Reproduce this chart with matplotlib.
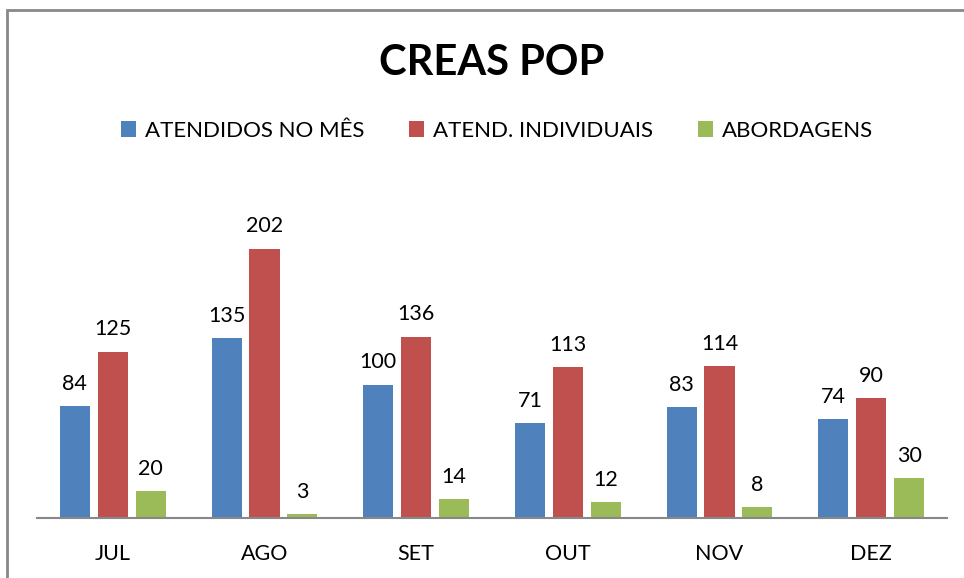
import matplotlib
matplotlib.use("Agg")
import matplotlib.pyplot as plt
from matplotlib.patches import Rectangle, Patch
import numpy as np

months = ["JUL", "AGO", "SET", "OUT", "NOV", "DEZ"]
series_names = ["ATENDIDOS NO MÊS", "ATEND. INDIVIDUAIS", "ABORDAGENS"]
atendidos = [84, 135, 100, 71, 83, 74]
individuais = [125, 202, 136, 113, 114, 90]
abordagens = [20, 3, 14, 12, 8, 30]
colors = ["#4F81BD", "#C0504D", "#9BBB59"]

plt.rcParams['font.family'] = ['Lato', 'DejaVu Sans']

W, H = 964, 578
fig = plt.figure(figsize=(W/100, H/100), dpi=100)
ax = fig.add_axes([37/W, 1-518/H, 910/W, 333/H])

x = np.arange(len(months))
offsets = [-0.25, 0.0, 0.25]
width = 0.198
for vals, off, c in zip([atendidos, individuais, abordagens], offsets, colors):
    bars = ax.bar(x + off, vals, width=width, color=c)
    for b, v in zip(bars, vals):
        ax.annotate(str(v), (b.get_x() + b.get_width()/2, v), xytext=(0, 9),
                    textcoords='offset points', ha='center', va='bottom', fontsize=15.5)

ax.set_xlim(-0.5, 5.5)
ax.set_ylim(0, 250)
ax.set_xticks(x)
ax.set_xticklabels(months, fontsize=15.5)
ax.tick_params(axis='x', length=0, pad=19)
ax.set_yticks([])
for s in ['top', 'right', 'left']:
    ax.spines[s].set_visible(False)
ax.spines['bottom'].set_color('#888888')
ax.spines['bottom'].set_linewidth(1.5)

fig.text(492/W, 1-63/H, "CREAS POP", ha='center', va='center', fontsize=30, fontweight='bold')

handles = [Patch(facecolor=c) for c in colors]
fig.legend(handles, series_names, loc='center', bbox_to_anchor=(497/W, 1-131/H), ncol=3,
           frameon=False, fontsize=16, handlelength=0.7, handleheight=0.7,
           handletextpad=0.4, columnspacing=2.0)

fig.patches.append(Rectangle((7/W, -0.1), 1.1, (1-10/H)+0.1, transform=fig.transFigure,
                             fill=False, edgecolor='#888888', linewidth=2))

fig.savefig("out.png", dpi=100)
